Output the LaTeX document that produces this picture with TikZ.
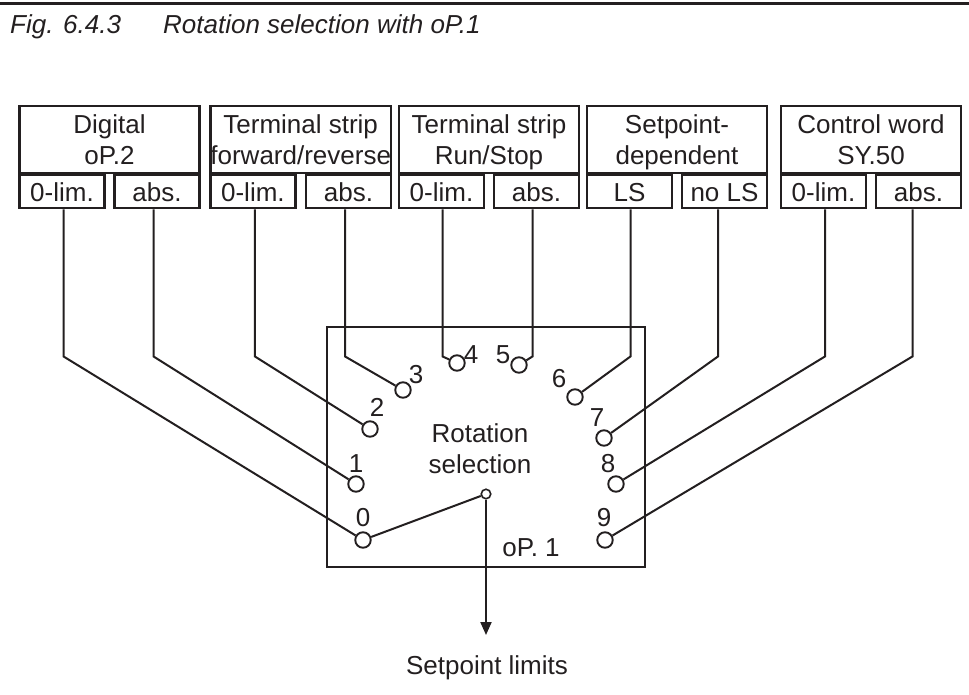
\documentclass[tikz,border=0pt]{standalone}
\usepackage{fontspec}
\setmainfont{Liberation Sans}
\usetikzlibrary{arrows.meta}
\definecolor{ink}{RGB}{35,31,32}
\begin{document}
\begin{tikzpicture}[x=1pt,y=-1pt, line join=miter, color=ink,
  every node/.style={font=\fontsize{26}{31}\selectfont, inner sep=0pt},
  hdr/.style={draw, line width=2.3pt, minimum width=180pt, minimum height=67pt, align=center, text height=49.6pt, text depth=0pt},
  sub/.style={draw, line width=2.3pt, minimum width=85pt, minimum height=33pt, text height=18.6pt, text depth=0pt},
  term/.style={draw, circle, minimum size=15.5pt, line width=1.9pt, fill=white},
  num/.style={text height=18.6pt, text depth=0pt},
  wire/.style={line width=2pt},
  caption/.style={font=\fontsize{26}{31}\selectfont\itshape, anchor=base west}]
\useasboundingbox (0,0) rectangle (969,694);
\draw[line width=2.7pt] (0,3.3) -- (969,3.3);
\node[caption] (figno) at (10,33) {Fig. 6.4.3};
\node[caption] (figtitle) at (163,33) {Rotation selection with oP.1};

% header boxes
\node[hdr] (h1) at (109.5,139.5) {Digital\\oP.2};
\node[hdr] (h2) at (300.7,139.5) {Terminal strip\\forward/reverse};
\node[hdr] (h3) at (489,139.5) {Terminal strip\\Run/Stop};
\node[hdr] (h4) at (677,139.5) {Setpoint-\\dependent};
\node[hdr] (h5) at (871,139.5) {Control word\\SY.50};

\foreach \i/\l/\r in {1/0-lim./abs., 2/0-lim./abs., 3/0-lim./abs., 4/LS/no LS, 5/0-lim./abs.}{
  \node[sub, anchor=north west] (a\i) at (h\i.south west) {\l};
  \node[sub, anchor=north east] (b\i) at (h\i.south east) {\r};
}

% main box
\node[draw, line width=2pt, minimum width=318pt, minimum height=240pt] (sel) at (486,447) {};
\node[align=center, text height=49.6pt, text depth=0pt] (seltext) at (480,449) {Rotation\\selection};
\node[anchor=base] (op1) at (531,556) {oP. 1};

% terminals
\node[term] (t0) at (363,540) {};
\node[term] (t1) at (356,484) {};
\node[term] (t2) at (370,429) {};
\node[term] (t3) at (403,390) {};
\node[term] (t4) at (457,363) {};
\node[term] (t5) at (519,365) {};
\node[term] (t6) at (575,397) {};
\node[term] (t7) at (604,438) {};
\node[term] (t8) at (616,484) {};
\node[term] (t9) at (605,540) {};

\node[num] (n0) at (363,517) {0};
\node[num] (n1) at (356,463) {1};
\node[num] (n2) at (377,407) {2};
\node[num] (n3) at (416,374) {3};
\node[num] (n4) at (471,354) {4};
\node[num] (n5) at (503,354) {5};
\node[num] (n6) at (559,378) {6};
\node[num] (n7) at (597,417) {7};
\node[num] (n8) at (608,463) {8};
\node[num] (n9) at (604,517) {9};

% wires
\draw[wire] ([xshift=1.5pt]a1.south) -- ++(0,147) -- (t0);
\draw[wire] ([xshift=-3.5pt]b1.south) -- ++(0,147) -- (t1);
\draw[wire] ([xshift=2pt]a2.south) -- ++(0,147) -- (t2);
\draw[wire] ([xshift=-3.5pt]b2.south) -- ++(0,147) -- (t3);
\draw[wire] ([xshift=1pt]a3.south) -- ++(0,147) -- (t4);
\draw[wire] ([xshift=-4pt]b3.south) -- ++(0,147) -- (t5);
\draw[wire] ([xshift=1pt]a4.south) -- ++(0,147) -- (t6);
\draw[wire] ([xshift=-6.5pt]b4.south) -- ++(0,147) -- (t7);
\draw[wire] ([xshift=1.5pt]a5.south) -- ++(0,147) -- (t8);
\draw[wire] ([xshift=-6pt]b5.south) -- ++(0,147) -- (t9);

% wiper and output
\node[draw, circle, minimum size=9.5pt, line width=1.6pt, fill=white] (w) at (486,494) {};
\draw[wire] (t0) -- (w);
\coordinate (tip) at (486,635);
\draw[wire, -{Triangle[length=13pt, width=11pt]}] (w) -- (tip);
\node[anchor=base] (out) at (487,674) {Setpoint limits};
\end{tikzpicture}
\end{document}
